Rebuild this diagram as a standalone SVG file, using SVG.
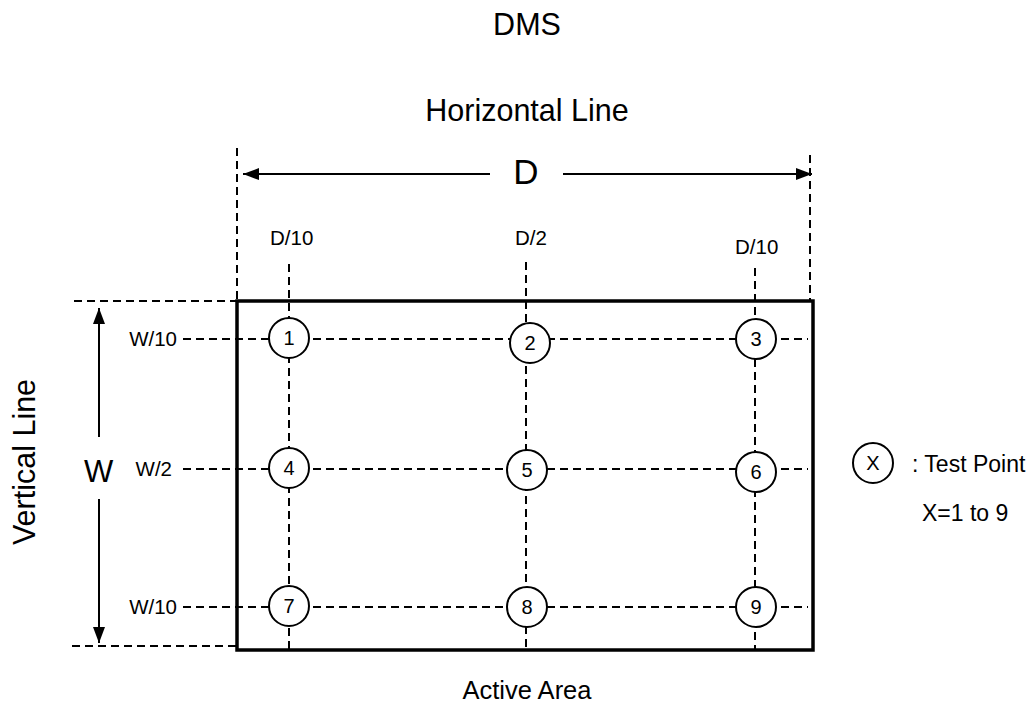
<svg xmlns="http://www.w3.org/2000/svg" width="1033" height="706" viewBox="0 0 1033 706">
<style>
text{font-family:"Liberation Sans",Arial,sans-serif;fill:#000}
.dash{stroke:#000;stroke-width:2;stroke-dasharray:8 5;fill:none}
.solid{stroke:#000;stroke-width:2;fill:none}
.pt circle{fill:#fff;stroke:#000;stroke-width:2}
.pt text{font-size:20px;text-anchor:middle}
.lbl{font-size:20.5px}
.big{font-size:30.5px}
</style>
<defs>
<marker id="ah" viewBox="0 0 16 12" refX="16" refY="6" markerWidth="16" markerHeight="12" markerUnits="userSpaceOnUse" orient="auto">
<path d="M0,0 L16,6 L0,12 Z" fill="#000"/>
</marker>
</defs>
<rect width="1033" height="706" fill="#fff"/>
<text class="big" x="527" y="35" text-anchor="middle">DMS</text>
<text class="big" x="527" y="121" text-anchor="middle">Horizontal Line</text>
<text class="big" transform="translate(35,462) rotate(-90)" text-anchor="middle">Vertical Line</text>
<text x="527" y="699" font-size="25.5" text-anchor="middle">Active Area</text>
<g id="connectors">
<line class="dash" x1="237" y1="148" x2="237" y2="301"/>
<line class="dash" x1="810" y1="155" x2="810" y2="301"/>
<line class="dash" x1="74" y1="301" x2="237" y2="301"/>
<line class="dash" x1="72" y1="646" x2="237" y2="646"/>
<line class="dash" x1="289" y1="264" x2="289" y2="650"/>
<line class="dash" x1="526" y1="262" x2="526" y2="650"/>
<line class="dash" x1="755" y1="268" x2="755" y2="650"/>
<line class="dash" x1="183" y1="339" x2="808" y2="339"/>
<line class="dash" x1="183" y1="469" x2="808" y2="469"/>
<line class="dash" x1="183" y1="607" x2="808" y2="607"/>
<line class="solid" x1="490" y1="174" x2="243" y2="174" marker-end="url(#ah)"/>
<line class="solid" x1="563" y1="174" x2="812" y2="174" marker-end="url(#ah)"/>
<line class="solid" x1="99" y1="437" x2="99" y2="308" marker-end="url(#ah)"/>
<line class="solid" x1="99" y1="499" x2="99" y2="643" marker-end="url(#ah)"/>
</g>
<g id="active-area">
<rect x="237" y="301" width="576" height="349" fill="none" stroke="#000" stroke-width="3.5"/>
</g>
<g id="labels">
<text x="526" y="184" font-size="35" text-anchor="middle">D</text>
<text x="84" y="482" font-size="31">W</text>
<text class="lbl" x="270" y="245">D/10</text>
<text class="lbl" x="515" y="245">D/2</text>
<text class="lbl" x="735" y="254">D/10</text>
<text class="lbl" x="177" y="346" text-anchor="end">W/10</text>
<text class="lbl" x="172" y="476" text-anchor="end">W/2</text>
<text class="lbl" x="177" y="614" text-anchor="end">W/10</text>
</g>
<g id="p1" class="pt"><circle cx="289" cy="338" r="20"/><text x="289" y="345">1</text></g>
<g id="p2" class="pt"><circle cx="530" cy="343" r="20"/><text x="530" y="350">2</text></g>
<g id="p3" class="pt"><circle cx="756" cy="339" r="20"/><text x="756" y="346">3</text></g>
<g id="p4" class="pt"><circle cx="289" cy="468" r="20"/><text x="289" y="475">4</text></g>
<g id="p5" class="pt"><circle cx="527" cy="470" r="20"/><text x="527" y="477">5</text></g>
<g id="p6" class="pt"><circle cx="756" cy="472" r="20"/><text x="756" y="479">6</text></g>
<g id="p7" class="pt"><circle cx="289" cy="606" r="20"/><text x="289" y="613">7</text></g>
<g id="p8" class="pt"><circle cx="527" cy="607" r="20"/><text x="527" y="614">8</text></g>
<g id="p9" class="pt"><circle cx="756" cy="607" r="20"/><text x="756" y="614">9</text></g>
<g id="legend">
<g class="pt"><circle cx="873" cy="463" r="20"/><text x="873" y="470">X</text></g>
<text x="912" y="472" font-size="23">: Test Point</text>
<text x="922" y="521" font-size="23">X=1 to 9</text>
</g>
</svg>
